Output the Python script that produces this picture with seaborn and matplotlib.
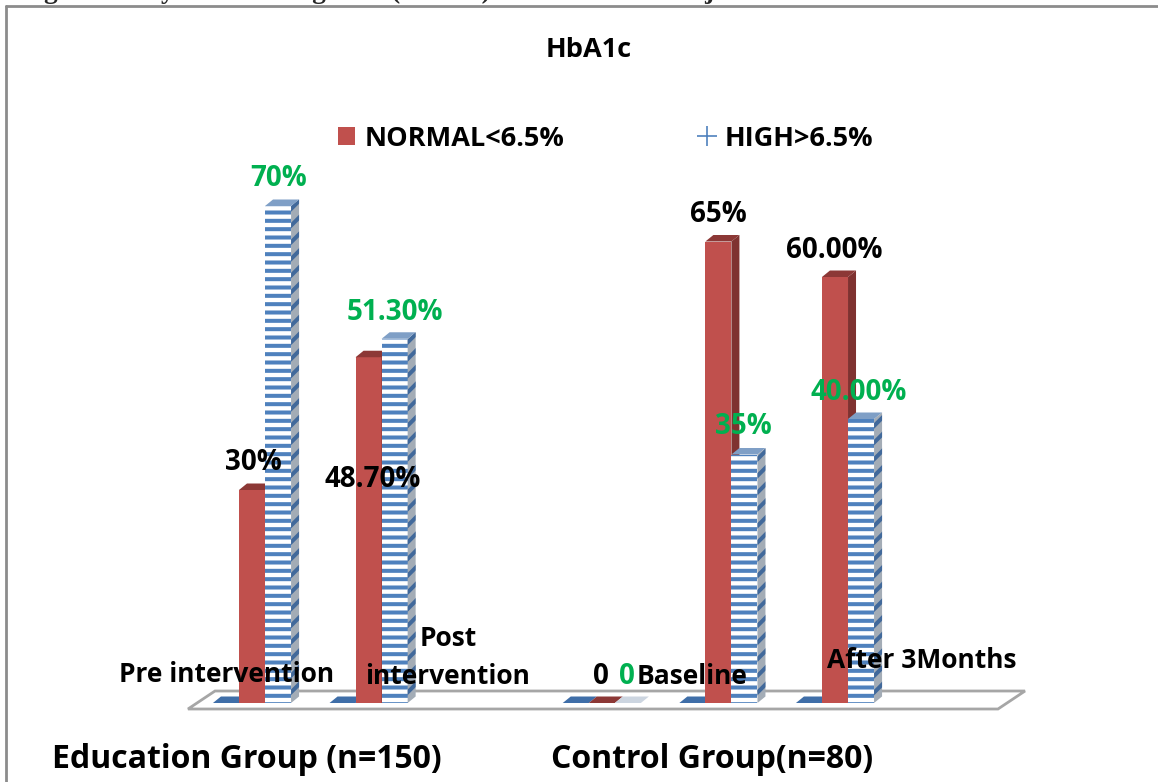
# HbA1c levels in education and control groups
# bars drawn by seaborn, 3D sides added on top of the bar patches

import pandas as pd
import matplotlib
matplotlib.use('Agg')
import matplotlib.pyplot as plt
from matplotlib.patches import Polygon, Patch
from matplotlib.lines import Line2D
import seaborn as sb

# Data
categories = ['Pre intervention', 'Post intervention', ' ', 'Baseline', 'Before', 'After 3Months']
bar_categories = ['Pre intervention', 'Post intervention', 'Baseline', 'Before', 'After 3Months']
empty_series = [0, 0, 0, 0, 0]
normal_values = [30, 48.7, 0, 65, 60]
high_values = [70, 51.3, 0, 35, 40]
series_names = ['Series3', 'NORMAL<6.5%', 'HIGH>6.5%']

normal_labels = ['30%', '48.70%', '0', '65%', '60.00%']
high_labels = ['70%', '51.30%', '0', '35%', '40.00%']

df = pd.DataFrame({
    'category': bar_categories * 3,
    'series': [s for s in series_names for _ in bar_categories],
    'value': empty_series + normal_values + high_values,
})

W, H = 1158, 782
RED = '#c0504d'
BLUE = '#4f81bd'
GREEN = '#00b050'

sb.set_style('white')
plt.rcParams['font.family'] = ['Open Sans', 'DejaVu Sans']
plt.rcParams['hatch.linewidth'] = 2.9

fig = plt.figure(figsize=(W / 100, H / 100), dpi=100)
ax = fig.add_axes([0, 0, 1, 1])

sb.barplot(data=df, x='category', y='value', hue='series', order=categories,
           hue_order=series_names, palette=['#3f6ea8', RED, 'white'], saturation=1,
           width=0.67, gap=0, dodge=True, legend=False, linewidth=0, ax=ax)

# pixel scale of the plot: first red bar centre at x=252, zero line at y=703
x_step, y_step = 116.6, 7.1
ax.set_xlim(-252 / x_step, (W - 252) / x_step)
ax.set_ylim(-(H - 703) / y_step, 703 / y_step)
ax.axis('off')

depth_x = 8 / x_step
depth_y = 6.5 / y_step


def add_3d(bar, side_kw, top_kw, z):
    x0, x1 = bar.get_x(), bar.get_x() + bar.get_width()
    h = bar.get_height()
    bar.set_zorder(z)
    if h > 0:
        ax.add_patch(Polygon([(x1, 0), (x1 + depth_x, depth_y), (x1 + depth_x, h + depth_y), (x1, h)],
                             closed=True, lw=0, zorder=z, **side_kw))
    ax.add_patch(Polygon([(x0, h), (x0 + depth_x, h + depth_y), (x1 + depth_x, h + depth_y), (x1, h)],
                         closed=True, lw=0, zorder=z, **top_kw))


for bar in ax.containers[0]:
    add_3d(bar, {'facecolor': '#3f6ea8'}, {'facecolor': '#3f6ea8'}, 2)
for bar in ax.containers[1]:
    add_3d(bar, {'facecolor': '#7f3230'}, {'facecolor': '#8c3836'}, 3)
for bar in ax.containers[2]:
    h = bar.get_height()
    bar.set_hatch('--')
    bar.set_edgecolor(BLUE)
    bar.set_linewidth(0)
    top_col = '#7f9fc6' if h > 0 else '#ccd5e0'
    add_3d(bar, {'facecolor': '#a3acb6', 'edgecolor': '#41699b', 'hatch': '//'},
           {'facecolor': top_col}, 4)


def px_x(px):
    return (px - 252) / x_step


def px_y(py):
    return (703 - py) / y_step


# floor of the 3D chart
ax.add_patch(Polygon([(px_x(188), px_y(709)), (px_x(215), px_y(691)),
                      (px_x(1025), px_y(691)), (px_x(998), px_y(709))],
                     closed=True, facecolor='none', edgecolor='#a6a6a6', lw=2, zorder=1))


def put(px, py, s, size=20, color='black'):
    return fig.text(px / W, 1 - py / H, s, fontsize=size, color=color, ha='center', va='center',
                    fontweight='bold', zorder=10)


# chart frame and the cut off caption above it
fig.add_artist(Line2D([6 / W, 6 / W], [0, 1 - 6 / H], color='#8c8c8c', lw=2))
fig.add_artist(Line2D([6 / W, 1], [1 - 6 / H, 1 - 6 / H], color='#8c8c8c', lw=2))
fig.text(20 / W, 1 + 1.5 / H, 'Figure 3: Glycated Hemoglobin (HbA1c) level of all the subjects.',
         fontsize=19.5, fontweight='bold', family='Liberation Serif', va='baseline', ha='left')

put(589, 50, 'HbA1c', size=19.5)

# value labels
normal_pos = [(253, 463), (373, 479), (601, 676), (718, 214), (834, 251)]
high_pos = [(279, 179), (395, 312), (627, 676), (743, 427), (859, 392)]
for s, (x, y) in zip(normal_labels, normal_pos):
    put(x, y, s)
for s, (x, y) in zip(high_labels, high_pos):
    put(x, y, s, color=GREEN)

# category labels
put(227, 675, 'Pre intervention', size=19)
put(448, 639, 'Post', size=19)
put(448, 677, 'intervention', size=19)
put(692, 676, 'Baseline', size=19)
put(922, 661, 'After 3Months', size=19)

put(247, 760, 'Education Group (n=150)', size=23)
put(712, 760, 'Control Group(n=80)', size=23)

# legend
handles = [Patch(facecolor=RED, edgecolor='none'),
           Line2D([], [], color=BLUE, marker='+', markersize=15, lw=0, markeredgewidth=1.2)]
fig.legend(handles, series_names[1:], loc='center', bbox_to_anchor=(605.5 / W, 1 - 138.5 / H),
           ncol=2, frameon=False, columnspacing=4.95, handlelength=0.63, handleheight=0.63,
           handletextpad=0.33, labelcolor='black', prop={'weight': 'bold', 'size': 19.5})

plt.savefig('out.png', dpi=100)
